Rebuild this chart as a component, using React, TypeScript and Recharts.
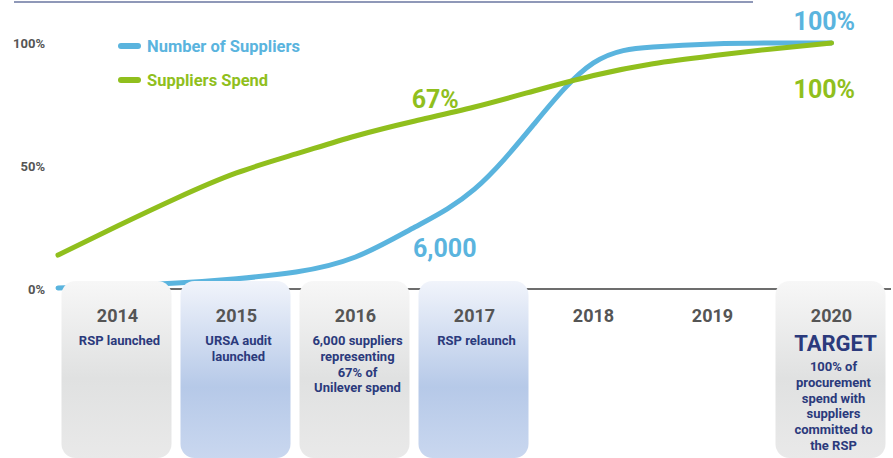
import React from 'react';
import {
  ComposedChart, Line, XAxis, YAxis, ReferenceLine, ReferenceDot, Legend,
} from 'recharts';

// timeline points (half-year steps)
const TIMELINE = [2013.5, 2014, 2014.5, 2015, 2015.5, 2016, 2016.5, 2017, 2017.5, 2018, 2018.5, 2019, 2019.5, 2020];
const SUPPLIERS = [0.4, 1.2, 2.4, 4.2, 6.9, 13, 25.2, 40.6, 67, 91.9, 98.4, 99.6, 100, 100];
const SPEND = [13.8, 25.6, 37, 47.2, 54.9, 62.2, 68.3, 74, 80.5, 86.8, 91.6, 94.8, 97.6, 100];

const YEARS = [2014, 2015, 2016, 2017, 2018, 2019, 2020];
const Y_TICKS = [0, 50, 100];
const TARGET_YEAR = 2020;

const NOTES: string[][] = [
  ['RSP launched'],
  ['URSA audit', 'launched'],
  ['6,000 suppliers', 'representing', '67% of', 'Unilever spend'],
  ['RSP relaunch'],
  [],
  [],
  ['100% of', 'procurement', 'spend with', 'suppliers', 'committed to', 'the RSP'],
];

const ANNOTATIONS = [
  { x: 2019.94, y: 105.3, text: '100%', series: 'suppliers' },
  { x: 2019.94, y: 77.6, text: '100%', series: 'spend' },
  { x: 2016.67, y: 73.6, text: '67%', series: 'spend' },
  { x: 2016.75, y: 13, text: '6,000', series: 'suppliers' },
];

const BLUE = '#5ab4de';
const GREEN = '#90bf1d';
const NAVY = '#2b3a7c';
const SERIES_COLORS: Record<string, string> = { suppliers: BLUE, spend: GREEN };
// box shading per year column
const BOX_KIND = ['gray', 'blue', 'gray', 'blue', null, null, 'gray'];

const data = TIMELINE.map((x, i) => ({ x, suppliers: SUPPLIERS[i], spend: SPEND[i] }));

function MilestoneTick(props: any) {
  const { x, y, payload } = props;
  const i = YEARS.indexOf(payload.value);
  const kind = BOX_KIND[i];
  const notes = NOTES[i] || [];
  const isTarget = payload.value === TARGET_YEAR;
  const gid = `box-grad-${i}`;
  const noteTop = isTarget ? 82 : 56;
  return (
    <g>
      {kind && (
        <>
          <defs>
            <linearGradient id={gid} x1="0" y1="0" x2="0" y2="1">
              {kind === 'gray' ? (
                <>
                  <stop offset="0%" stopColor="#f7f7f7" />
                  <stop offset="55%" stopColor="#e0e1e1" />
                  <stop offset="100%" stopColor="#e9e9e9" />
                </>
              ) : (
                <>
                  <stop offset="0%" stopColor="#f1f4fb" />
                  <stop offset="60%" stopColor="#b6c9e8" />
                  <stop offset="100%" stopColor="#c9d7ef" />
                </>
              )}
            </linearGradient>
          </defs>
          <rect x={x - 56} y={y - 8} width={110} height={177} rx={14} fill={`url(#${gid})`} />
        </>
      )}
      <text x={x} y={y + 33} textAnchor="middle" fontSize={18} fontWeight={700} fill="#555">
        {payload.value}
      </text>
      {isTarget && (
        <text x={x + 4} y={y + 62} textAnchor="middle" fontSize={22} fontWeight={700} fill={NAVY}>
          TARGET
        </text>
      )}
      {notes.map((line, k) => (
        <text key={k} x={x + 2} y={y + noteTop + k * 15.8} textAnchor="middle" fontSize={13} fontWeight={700} fill={NAVY}>
          {line}
        </text>
      ))}
    </g>
  );
}

function LegendContent(props: any) {
  const { payload = [] } = props;
  return (
    <div>
      {payload.map((item: any) => (
        <div key={item.value} style={{ display: 'flex', alignItems: 'center', height: 34 }}>
          <span style={{ display: 'inline-block', width: 23, height: 6, borderRadius: 3, background: item.color, marginRight: 6 }} />
          <span style={{ color: item.color, fontSize: 16.5, fontWeight: 700 }}>{item.value}</span>
        </div>
      ))}
    </div>
  );
}

export default function App() {
  return (
    <div style={{ position: 'absolute', left: 0, top: 0, width: 893, height: 458, overflow: 'hidden', background: '#fff', fontFamily: 'Roboto, "Open Sans", sans-serif' }}>
      <div style={{ position: 'absolute', left: 14, top: 1, width: 739, height: 2, background: '#8f98b8' }} />
      <ComposedChart width={893} height={458} data={data} margin={{ top: 43, right: 2, bottom: 0, left: 0 }}>
        <XAxis dataKey="x" type="number" domain={[2013.5, 2020.5]} ticks={YEARS} interval={0}
          tick={<MilestoneTick />} axisLine={false} tickLine={false} tickSize={0} tickMargin={0} height={169} />
        <YAxis type="number" domain={[0, 100]} ticks={Y_TICKS} width={58} axisLine={false} tickLine={false}
          tickSize={0} tickMargin={13} tickFormatter={(v) => `${v}%`}
          tick={{ fontSize: 13, fontWeight: 700, fill: '#555' }} />
        <ReferenceLine y={0} stroke="#6d6d6d" strokeWidth={2} />
        <Legend layout="vertical" align="center" verticalAlign="middle" content={<LegendContent />}
          wrapperStyle={{ left: 118, top: 29, width: 'auto' }} />
        <Line type="natural" dataKey="suppliers" name="Number of Suppliers" stroke={BLUE} strokeWidth={5}
          strokeLinecap="round" dot={false} activeDot={false} isAnimationActive={false} />
        <Line type="natural" dataKey="spend" name="Suppliers Spend" stroke={GREEN} strokeWidth={5}
          strokeLinecap="round" dot={false} activeDot={false} isAnimationActive={false} />
        {ANNOTATIONS.map((a) => (
          <ReferenceDot key={a.text + a.y} x={a.x} y={a.y} r={0} ifOverflow="visible"
            shape={(p: any) => (
              <text x={p.cx} y={p.cy} textAnchor="middle" fontSize={25} fontWeight={700} fill={SERIES_COLORS[a.series]}>
                {a.text}
              </text>
            )} />
        ))}
      </ComposedChart>
    </div>
  );
}
